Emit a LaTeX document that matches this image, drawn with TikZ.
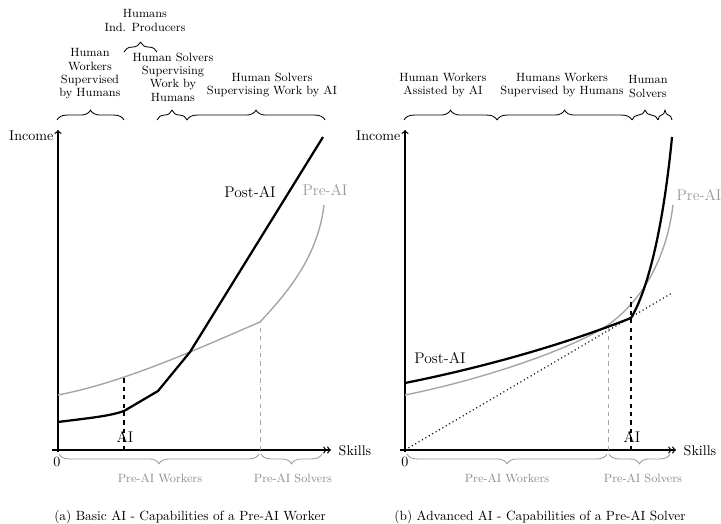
\documentclass[tikz,border=0pt]{standalone}
\usepackage{amsmath}
\usetikzlibrary{decorations.pathreplacing}

\tikzset{
    lbl/.style={align=center, font=\fontsize{8.5}{9.5}\selectfont, inner sep=1pt},
    biglbl/.style={font=\fontsize{11}{12}\selectfont, inner sep=1pt},
    axislbl/.style={font=\fontsize{10}{11}\selectfont, inner sep=1pt},
    toplbrace/.style={decorate, decoration={brace, amplitude=7pt}, line width=0.6pt},
    lowbrace/.style={decorate, decoration={brace, amplitude=7pt, mirror}, gray!80, line width=0.6pt},
    preai/.style={gray!70, line width=1pt},
    postai/.style={black, line width=1.6pt},
    axisline/.style={line width=0.9pt}
}

\begin{document}
\begin{tikzpicture}[x=0.025cm, y=-0.025cm]
        \useasboundingbox (0, 0) rectangle (721, 524);

        % left panel
        \coordinate (O1) at (58, 450);
        \draw[axisline, ->] (58, 452) -- (58, 130) coordinate (Y1);
        \draw[axisline, ->>] (52, 450) -- (331, 450) coordinate (X1);
        \node[axislbl, anchor=east] (inc1) at (55, 136) {Income};
        \node[axislbl, anchor=west] (sk1) at (337, 451) {Skills};
        \node[axislbl] (zero1) at (57, 462) {0};

        \draw[preai] (58, 395) .. controls (125, 382) and (195, 350) .. (260, 322)
                     .. controls (290, 290) and (318, 255) .. (324, 205);
        \draw[postai] (58, 422) .. controls (90, 418) and (110, 416) .. (124, 411)
                      -- (158, 391) -- (190, 352) -- (323, 137);

        \draw[dashed, line width=0.8pt] (124, 450) -- (124, 376);
        \draw[dashed, gray!70, line width=0.6pt] (260, 450) -- (260, 322);

        \node[biglbl] (ai1) at (125, 437) {AI};
        \node[biglbl] (post1) at (250, 192) {Post-AI};
        \node[biglbl, gray!80] (pre1) at (325, 190) {Pre-AI};

        \draw[lowbrace] (59, 454) -- (259, 454);
        \draw[lowbrace] (261, 454) -- (322, 454);
        \node[lbl, gray!90] (pw1) at (160, 478) {Pre-AI Workers};
        \node[lbl, gray!90] (ps1) at (293, 478) {Pre-AI Solvers};

        \draw[toplbrace] (57, 120) -- (124, 120);
        \draw[toplbrace] (157, 120) -- (187, 120);
        \draw[toplbrace] (187, 120) -- (325, 120);
        \draw[toplbrace] (124, 52) -- (157, 52);
        \node[lbl, anchor=south] (hw1) at (90, 101) {Human\\Workers\\Supervised\\by Humans};
        \node[lbl, anchor=south] (hs1) at (173, 103) {Human Solvers\\Supervising\\Work by\\Humans};
        \node[lbl, anchor=south] (hsa1) at (272, 99) {Human Solvers\\Supervising Work by AI};
        \node[lbl, anchor=south] (hip1) at (145, 33) {Humans\\Ind. Producers};

        \node[font=\fontsize{9.5}{11}\selectfont] (capa) at (190, 517) {(a) Basic AI - Capabilities of a Pre-AI Worker};

        % right panel
        \coordinate (O2) at (405, 450);
        \draw[axisline, ->] (405, 452) -- (405, 130) coordinate (Y2);
        \draw[axisline, ->>] (400, 450) -- (676, 450) coordinate (X2);
        \node[axislbl, anchor=east] (inc2) at (402, 136) {Income};
        \node[axislbl, anchor=west] (sk2) at (682, 451) {Skills};
        \node[axislbl] (zero2) at (405, 462) {0};

        \draw[dotted, line width=0.8pt] (O2) -- (672, 293);
        \draw[preai] (405, 395) .. controls (480, 380) and (570, 350) .. (608, 325)
                     .. controls (640, 302) and (666, 262) .. (673, 205);
        \draw[postai] (405, 383) .. controls (480, 368) and (560, 346) .. (631, 318)
                      .. controls (645, 295) and (662, 240) .. (672, 137);

        \draw[dashed, gray!70, line width=0.6pt] (608, 450) -- (608, 325);
        \draw[dashed, line width=0.8pt] (631, 450) -- (631, 297);

        \node[biglbl] (ai2) at (632, 437) {AI};
        \node[biglbl] (post2) at (440, 358) {Post-AI};
        \node[biglbl, gray!80] (pre2) at (699, 195) {Pre-AI};

        \draw[lowbrace] (407, 454) -- (607, 454);
        \draw[lowbrace] (609, 454) -- (670, 454);
        \node[lbl, gray!90] (pw2) at (507, 478) {Pre-AI Workers};
        \node[lbl, gray!90] (ps2) at (643, 478) {Pre-AI Solvers};

        \draw[toplbrace] (404, 120) -- (497, 120);
        \draw[toplbrace] (497, 120) -- (632, 120);
        \draw[toplbrace] (632, 120) -- (658, 120);
        \draw[toplbrace] (658, 120) -- (672, 120);
        \node[lbl, anchor=south] (hwa2) at (443, 99) {Human Workers\\Assisted by AI};
        \node[lbl, anchor=south] (hws2) at (562, 99) {Humans Workers\\Supervised by Humans};
        \node[lbl, anchor=south] (hs2) at (648, 99) {Human\\Solvers};

        \node[font=\fontsize{9.5}{11}\selectfont] (capb) at (540, 517) {(b) Advanced AI - Capabilities of a Pre-AI Solver};
    \end{tikzpicture}
\end{document}
